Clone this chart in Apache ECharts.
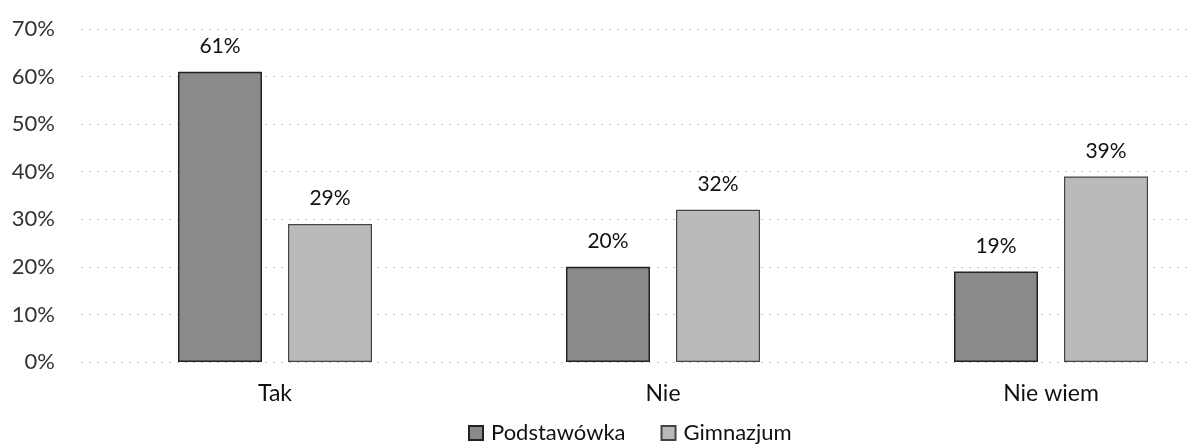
<!DOCTYPE html>
<html>
<head>
<meta charset="utf-8">
<script src="https://cdn.jsdelivr.net/npm/echarts@6/dist/echarts.min.js"></script>
<style>html,body{margin:0;padding:0;background:#fff;overflow:hidden;}#wrap{width:1190px;height:445px;overflow:hidden;}#c{width:1245px;height:445px;}</style>
</head>
<body>
<div id="wrap"><div id="c"></div></div>
<script>
const categories = ['Tak', 'Nie', 'Nie wiem'];
const seriesNames = ['Podstawówka', 'Gimnazjum'];
const podstawowka = [61, 20, 19];
const gimnazjum = [29, 32, 39];

const chart = echarts.init(document.getElementById('c'), null, {renderer: 'canvas'});
const font = 'Lato, "Open Sans", sans-serif';
chart.setOption({
  animation: false,
  backgroundColor: '#ffffff',
  grid: {left: 81, right: 0, top: 29, bottom: 83},
  legend: {
    data: seriesNames,
    top: 422,
    left: 468,
    padding: 0,
    icon: 'rect',
    itemWidth: 14,
    itemHeight: 14,
    itemGap: 35,
    textStyle: {fontFamily: font, fontSize: 22, lineHeight: 22, color: '#111', padding: [0, 0, 0, 3]}
  },
  xAxis: {
    type: 'category',
    data: categories,
    axisLine: {show: false},
    axisTick: {show: false},
    axisLabel: {fontFamily: font, fontSize: 23, color: '#111', margin: 20}
  },
  yAxis: {
    type: 'value',
    min: 0,
    max: 70,
    interval: 10,
    axisLine: {show: false},
    axisTick: {show: false},
    axisLabel: {formatter: '{value}%', fontFamily: font, fontSize: 22, color: '#333', margin: 26},
    splitLine: {lineStyle: {type: [2, 6], color: '#c4c4c4', width: 1}}
  },
  series: [
    {
      name: seriesNames[0],
      type: 'bar',
      data: podstawowka,
      barWidth: 84,
      barGap: '31%',
      itemStyle: {color: '#8a8a8a', borderColor: '#222', borderWidth: 1.5},
      label: {show: true, position: 'top', distance: 15, formatter: '{c}%', fontFamily: font, fontSize: 21, color: '#111'}
    },
    {
      name: seriesNames[1],
      type: 'bar',
      data: gimnazjum,
      barWidth: 84,
      itemStyle: {color: '#bababa', borderColor: '#444', borderWidth: 1.2},
      label: {show: true, position: 'top', distance: 15, formatter: '{c}%', fontFamily: font, fontSize: 21, color: '#111'}
    }
  ]
});
</script>
</body>
</html>
